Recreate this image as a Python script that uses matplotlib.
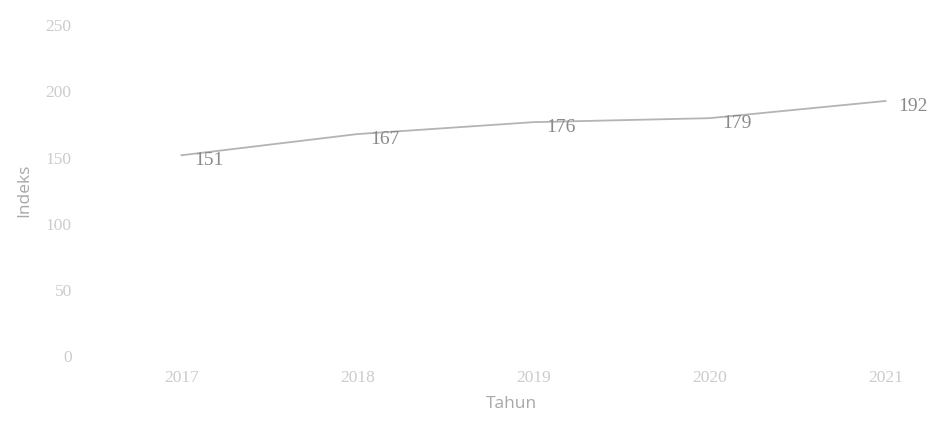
import matplotlib.pyplot as plt

years = ["2017", "2018", "2019", "2020", "2021"]
indeks = [151, 167, 176, 179, 192]
y_ticks = [0, 50, 100, 150, 200, 250]

fig = plt.figure(figsize=(9.3, 4.27), dpi=100)
ax = fig.add_axes([0.11, 0.166, 0.88, 0.775])

x = list(range(len(years)))
ax.plot(x, indeks, color="#b4b4b4", linewidth=1.3)

for xi, v in zip(x, indeks):
    ax.annotate(str(v), (xi, v), xytext=(20, -3), textcoords="offset points",
                ha="center", va="center", fontsize=14, color="#8a8a8a",
                family="Liberation Serif")

ax.set_xlim(-0.45, 4.2)
ax.set_ylim(0, 250)
ax.set_xticks(x)
ax.set_xticklabels(years)
ax.set_yticks(y_ticks)
for s in ax.spines.values():
    s.set_visible(False)
ax.tick_params(length=0, labelsize=12.5, colors="#cccccc")
ax.tick_params(axis="y", pad=22)
ax.tick_params(axis="x", pad=10)
for lab in ax.get_xticklabels() + ax.get_yticklabels():
    lab.set_family("Liberation Serif")

ax.set_xlabel("Tahun", fontsize=12.5, color="#a8a8a8", family="Open Sans", labelpad=7)
ax.set_ylabel("Indeks", fontsize=12.5, color="#a8a8a8", family="Open Sans", labelpad=10)

fig.savefig("out.png", dpi=100, facecolor="white")
